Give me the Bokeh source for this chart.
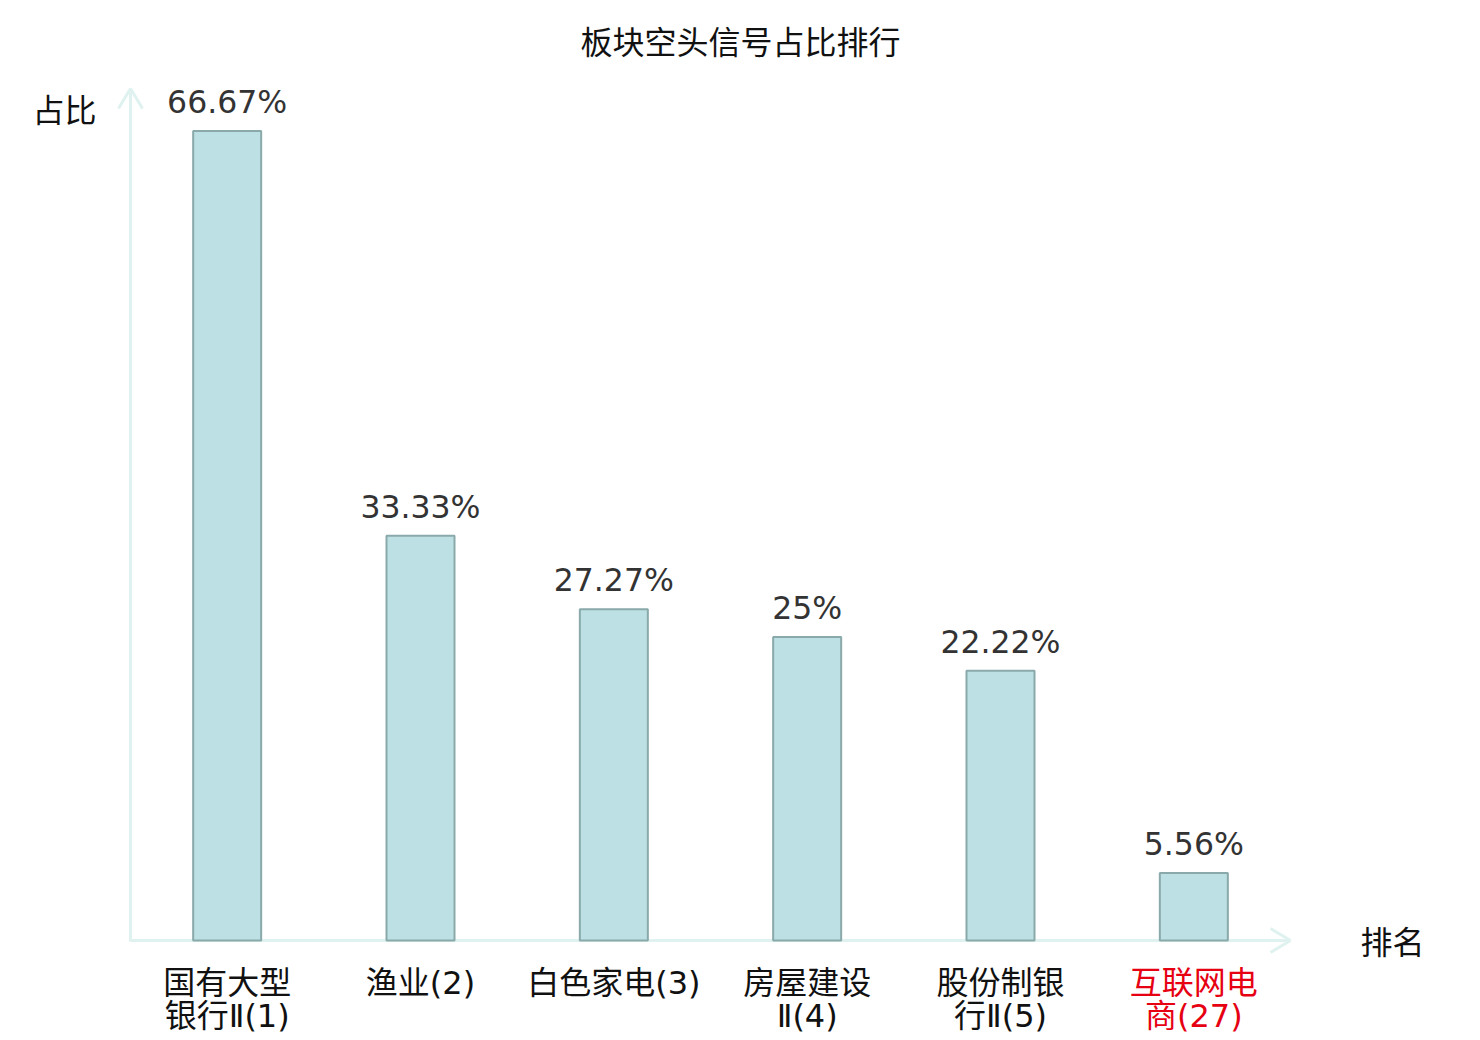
from bokeh.plotting import figure
from bokeh.models import ColumnDataSource, LabelSet, Label, Arrow, Range1d
from bokeh.core.properties import value
from bokeh.embed import file_html
from bokeh.resources import INLINE

# ---- data ----
categories = ["国有大型\n银行Ⅱ(1)", "渔业(2)", "白色家电(3)", "房屋建设\nⅡ(4)", "股份制银\n行Ⅱ(5)", "互联网电\n商(27)"]
values = [66.67, 33.33, 27.27, 25.0, 22.22, 5.56]
label_colors = ["#111111", "#111111", "#111111", "#111111", "#111111", "#e60012"]
title_text = "板块空头信号占比排行"
y_name = "占比"
x_name = "排名"

FONT = "DejaVu Sans, Noto Sans CJK SC"
CAT_FONT = "DejaVu Sans ExtraLight, DejaVu Sans, Noto Sans CJK SC"
W, H = 1480, 1040
# plot area in page pixels: x 130..1290 -> 0..6 ; y 940..90 -> 0..70
FX0, FX1, FY0, FY1 = 130.0, 1290.0, 940.0, 90.0
px_x = 6.0 / (FX1 - FX0)
px_y = 70.0 / (FY0 - FY1)

p = figure(width=W, height=H, output_backend="svg", toolbar_location=None,
           x_range=Range1d(-FX0 * px_x, (W - FX0) * px_x),
           y_range=Range1d((FY0 - H) * px_y, FY0 * px_y),
           min_border=0, min_border_left=0, min_border_right=0,
           min_border_top=0, min_border_bottom=0,
           x_axis_location=None, y_axis_location=None)
p.xgrid.visible = False
p.ygrid.visible = False
p.outline_line_color = None
p.background_fill_color = "white"
p.border_fill_color = "white"

def X(px):
    return (px - FX0) * px_x

def Y(py):
    return (FY0 - py) * px_y

xs = [i + 0.5 for i in range(len(categories))]
src = ColumnDataSource(dict(
    x=xs, top=values,
    vy=[v + 18 * px_y for v in values],
    vtext=[f"{v:g}%" for v in values],
))

# axes with open arrowheads (under the bars)
AX = "#dff2ef"
def seg(xa, ya, xb, yb):
    p.add_layout(Arrow(x_start=xa, y_start=ya, x_end=xb, y_end=yb, start=None, end=None,
                       line_color=AX, line_width=3, level="underlay"))

ytip = Y(88)
seg(0, Y(941), 0, ytip)
seg(0, ytip, -12 * px_x, ytip - 20 * px_y)
seg(0, ytip, 12 * px_x, ytip - 20 * px_y)
xtip = X(1290)
seg(0, 0, xtip, 0)
seg(xtip, 0, xtip - 20 * px_x, 12 * px_y)
seg(xtip, 0, xtip - 20 * px_x, -12 * px_y)

p.vbar(x="x", top="top", bottom=0, width=68 * px_x, source=src,
       fill_color="#bce0e3", line_color="#8aa9aa", line_width=2)

p.add_layout(LabelSet(x="x", y="vy", text="vtext", source=src,
                      text_align="center", text_baseline="alphabetic",
                      text_font=value(FONT), text_font_size="31.5px",
                      text_color="#333333"))

# category labels (two lines)
l1, l2 = [], []
for c in categories:
    parts = c.split("\n")
    l1.append(parts[0])
    l2.append(parts[1] if len(parts) > 1 else "")
csrc = ColumnDataSource(dict(x=xs, y1=[Y(982)] * len(xs), y2=[Y(1015)] * len(xs),
                             t1=l1, t2=l2, c=label_colors))
for yf, tf in (("y1", "t1"), ("y2", "t2")):
    p.add_layout(LabelSet(x="x", y=yf, text=tf, source=csrc, text_color="c",
                          text_align="center", text_baseline="middle",
                          text_font=value(CAT_FONT), text_font_size="32px"))

# title and axis names
for tx, cx, cy in ((title_text, 740, 42), (y_name, 64, 110), (x_name, 1392, 942)):
    p.add_layout(Label(x=X(cx), y=Y(cy), text=tx,
                       text_align="center", text_baseline="middle",
                       text_font=FONT, text_font_size="32px", text_color="#111111"))

open("out.html", "w").write(file_html(p, INLINE))
